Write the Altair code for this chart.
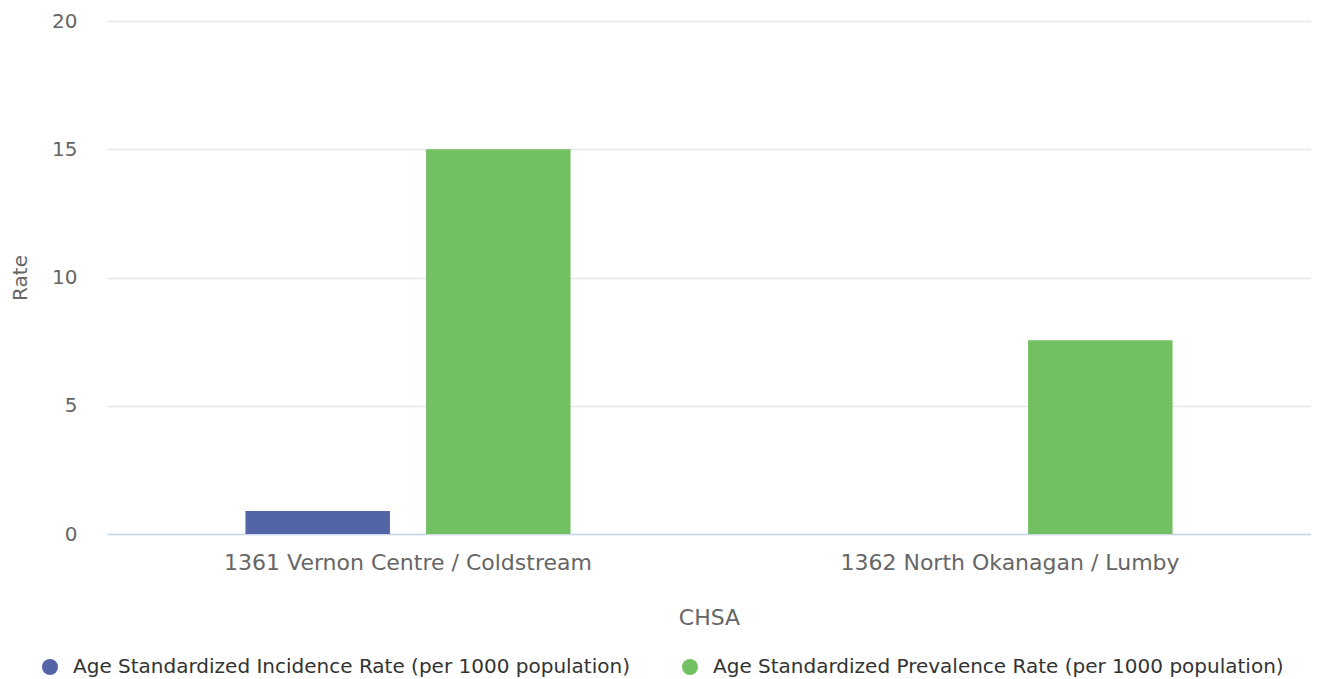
import altair as alt
import pandas as pd

chsa = ["1361 Vernon Centre / Coldstream", "1362 North Okanagan / Lumby"]
series = [
    "Age Standardized Incidence Rate (per 1000 population)",
    "Age Standardized Prevalence Rate (per 1000 population)",
]
incidence = [0.9, None]
prevalence = [15.0, 7.55]
colors = ["#5364a7", "#73c063"]
y_ticks = [0, 5, 10, 15, 20]

rows = []
for i, c in enumerate(chsa):
    for s, vals in zip(series, [incidence, prevalence]):
        rows.append({"CHSA": c, "Series": s, "Rate": vals[i]})
df = pd.DataFrame(rows)

FONT = "DejaVu Sans"

chart = (
    alt.Chart(df)
    .mark_bar()
    .encode(
        x=alt.X(
            "CHSA:N",
            sort=chsa,
            scale=alt.Scale(paddingInner=0.4, paddingOuter=0.2),
            axis=alt.Axis(
                labelAngle=0,
                ticks=False,
                domainColor="#ccd6eb",
                domainWidth=1.5,
                labelFontSize=22,
                labelColor="#666666",
                labelPadding=18,
                labelFont=FONT,
                labelLimit=1000,
                title="CHSA",
                titleFont=FONT,
                titleFontSize=22,
                titleFontWeight="normal",
                titleColor="#666666",
                titlePadding=34,
                grid=False,
            ),
        ),
        xOffset=alt.XOffset(
            "Series:N",
            sort=series,
            scale=alt.Scale(domain=series, paddingInner=0.2, paddingOuter=0.1),
        ),
        y=alt.Y(
            "Rate:Q",
            scale=alt.Scale(domain=[0, 20], nice=False),
            axis=alt.Axis(
                values=y_ticks,
                ticks=False,
                domain=False,
                gridColor="#e6e6e6",
                gridWidth=1.5,
                labelFontSize=20,
                labelColor="#666666",
                labelPadding=30,
                labelFont=FONT,
                title="Rate",
                titleFont=FONT,
                titleFontSize=20,
                titleFontWeight="normal",
                titleColor="#666666",
                titlePadding=21,
            ),
        ),
        color=alt.Color(
            "Series:N",
            sort=series,
            scale=alt.Scale(domain=series, range=colors),
            legend=alt.Legend(
                title=None,
                orient="none",
                direction="horizontal",
                legendX=-67,
                legendY=636,
                symbolType="circle",
                symbolSize=256,
                symbolStrokeWidth=0,
                labelFont=FONT,
                labelFontSize=20,
                labelColor="#333333",
                labelOffset=13,
                columnPadding=50,
                labelLimit=1000,
                padding=0,
            ),
        ),
    )
    .properties(
        width=1204,
        height=513,
        autosize=alt.AutoSizeParams(type="none"),
        padding={"left": 99, "top": 13, "right": 0, "bottom": 145},
    )
    .configure_view(stroke=None)
)

chart.save("out.html", embed_options={"renderer": "svg", "actions": False})
